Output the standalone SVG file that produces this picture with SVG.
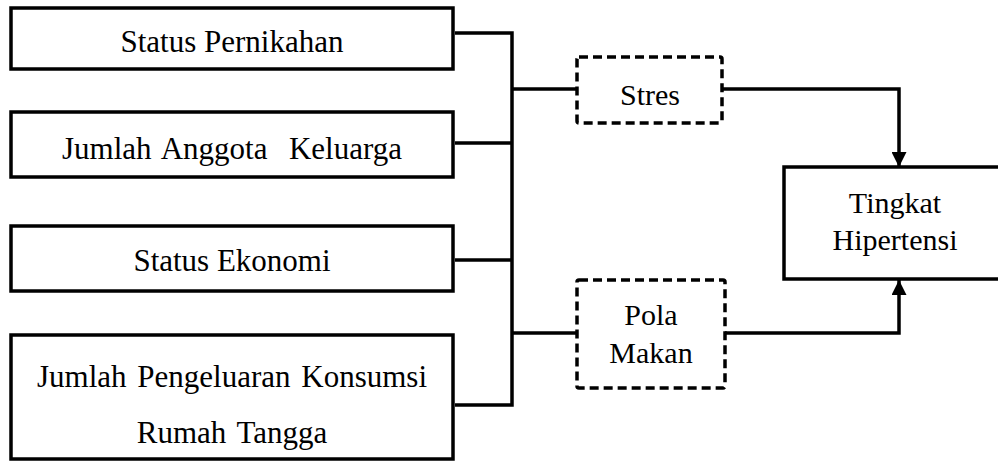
<svg xmlns="http://www.w3.org/2000/svg" width="998" height="461" viewBox="0 0 998 461">
<style>
.box{fill:#fff;stroke:#000;stroke-width:3.5}
.dbox{fill:#fff;stroke:#000;stroke-width:3.5;stroke-dasharray:9 5}
.t{font-family:"Liberation Serif","Times New Roman",serif;font-size:30px;fill:#000;text-anchor:middle}
.l{font-size:31px;word-spacing:3px}
.c{fill:none;stroke:#000;stroke-width:3.5}
</style>
<defs>
<marker id="ah" viewBox="0 0 10 10" refX="10" refY="5" markerWidth="15" markerHeight="15" markerUnits="userSpaceOnUse" orient="auto">
<path d="M0,0 L10,5 L0,10 Z" fill="#000"/>
</marker>
</defs>
<rect width="998" height="461" fill="#fff"/>
<g id="connectors">
<path class="c" d="M455,33 H512 V405 H455"/>
<path class="c" d="M455,143 H512"/>
<path class="c" d="M455,260 H512"/>
<path class="c" d="M512,89 H577"/>
<path class="c" d="M512,333 H577"/>
<path class="c" d="M722,89 H899 V167" marker-end="url(#ah)"/>
<path class="c" d="M725,333 H899 V280" marker-end="url(#ah)"/>
</g>
<g id="n1"><rect class="box" x="11" y="8" width="442" height="61"/><text class="t l" x="232" y="52" style="word-spacing:0">Status Pernikahan</text></g>
<g id="n2"><rect class="box" x="11" y="112" width="442" height="65"/><text class="t l" x="232" y="159" xml:space="preserve">Jumlah Anggota  Keluarga</text></g>
<g id="n3"><rect class="box" x="11" y="226" width="442" height="65"/><text class="t l" x="232" y="271" style="word-spacing:0">Status Ekonomi</text></g>
<g id="n4"><rect class="box" x="11" y="335" width="442" height="124"/><text class="t l" x="232" y="387">Jumlah Pengeluaran Konsumsi</text><text class="t l" x="232" y="443">Rumah Tangga</text></g>
<g id="n5"><rect class="dbox" x="577" y="57" width="145" height="66" rx="2"/><text class="t" x="650" y="105">Stres</text></g>
<g id="n6"><rect class="dbox" x="577" y="280" width="148" height="108" rx="2"/><text class="t" x="651" y="325">Pola</text><text class="t" x="651" y="363">Makan</text></g>
<g id="n7"><rect class="box" x="784" y="167" width="222" height="112"/><text class="t" x="895" y="213">Tingkat</text><text class="t" x="895" y="250">Hipertensi</text></g>
</svg>
